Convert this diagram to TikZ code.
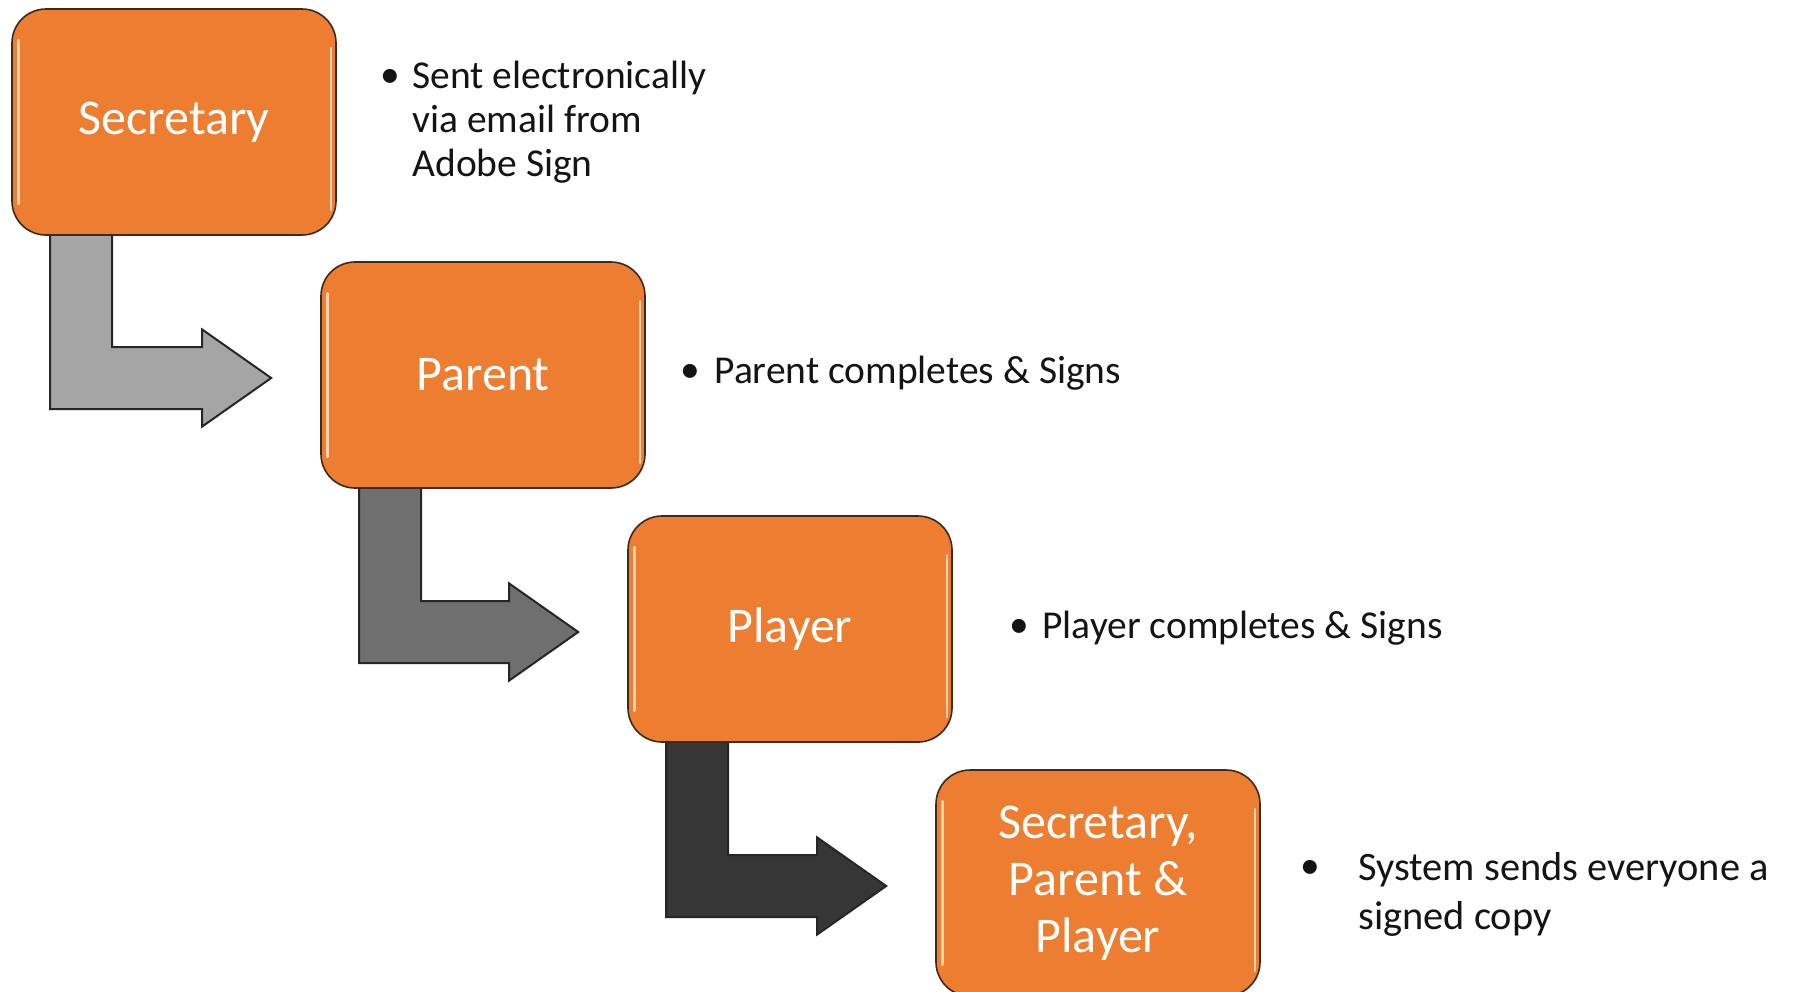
\documentclass[tikz,border=0pt]{standalone}
\usepackage{fontspec}
\setmainfont{Carlito}
\usetikzlibrary{calc}
\pgfdeclarelayer{bg}
\pgfsetlayers{bg,main}
\definecolor{boxorange}{HTML}{ED7D31}
\definecolor{boxedge}{HTML}{3B2A1E}
\definecolor{hilite}{HTML}{FCE3C4}
\definecolor{arrowA}{HTML}{A5A5A5}
\definecolor{arrowB}{HTML}{6F6F6F}
\definecolor{arrowC}{HTML}{363636}
\definecolor{txtdark}{HTML}{141414}
\newcommand{\bentarrow}[3]{%
  \begin{pgfonlayer}{bg}
  \path[bentarrowstyle, fill=#3] let \p1=(#1.south west), \p2=(#2.west) in
    (\x1+19.5pt, \y1+3pt) -- (\x1+50.5pt, \y1+3pt)
    -- (\x1+50.5pt, \y2+14pt) -- (\x2-59pt, \y2+14pt)
    -- (\x2-59pt, \y2+22.75pt) -- (\x2-24.5pt, \y2-1.5pt)
    -- (\x2-59pt, \y2-25.75pt) -- (\x2-59pt, \y2-17pt)
    -- (\x1+19.5pt, \y2-17pt) -- cycle;
  \end{pgfonlayer}}
\newcommand{\boxgloss}[1]{%
  \draw[glossline] ($(#1.north west)+(7,32)$) -- ($(#1.south west)+(7,-32)$);
  \draw[glossline] ($(#1.north east)+(-6,40)$) -- ($(#1.south east)+(-6,-26)$);}
\begin{document}
\begin{tikzpicture}[x=0.5pt,y=-0.5pt,
  stepbox/.style={rounded corners=17pt, fill=boxorange, draw=boxedge, line width=0.8pt,
    minimum width=162pt, minimum height=113pt, inner sep=0pt, align=center,
    text=white, font=\fontsize{25}{28.5}\selectfont},
  sidetext/.style={anchor=west, inner sep=0pt, align=left, text=txtdark,
    font=\fontsize{19.75}{22}\selectfont},
  bulletmark/.style={inner sep=0pt, text=txtdark, font=\fontsize{19.75}{22}\selectfont},
  bentarrowstyle/.style={draw=black!85, line width=1pt, line join=miter},
  glossline/.style={hilite, line width=1.3pt, line cap=round, opacity=0.85}
]
\useasboundingbox (0,0) rectangle (1797,991);
\begin{pgfonlayer}{bg}
\fill[white] (0,0) rectangle (1797,991);
\end{pgfonlayer}

% step boxes
\node[stepbox] (sec) at (174,122) {Secretary};
\node[stepbox] (par) at (483,375) {Parent};
\node[stepbox] (pla) at (790,629) {Player};
\node[stepbox] (all) at (1098,883) {Secretary,\\Parent \&\\Player};
\boxgloss{sec}
\boxgloss{par}
\boxgloss{pla}
\boxgloss{all}

% bent arrows
\bentarrow{sec}{par}{arrowA}
\bentarrow{par}{pla}{arrowB}
\bentarrow{pla}{all}{arrowC}

% side notes
\node[bulletmark] (b1) at (390,78) {•};
\node[sidetext] (t1) at (412,122) {Sent electronically\\via email from\\Adobe Sign};
\node[bulletmark] (b2) at (690,373) {•};
\node[sidetext] (t2) at (714,373) {Parent completes \& Signs};
\node[bulletmark] (b3) at (1019,628) {•};
\node[sidetext] (t3) at (1042,628) {Player completes \& Signs};
\node[bulletmark] (b4) at (1310,869) {•};
\node[sidetext, font=\fontsize{20.2}{24.5}\selectfont] (t4) at (1358,894) {System sends everyone a\\signed copy};
\end{tikzpicture}
\end{document}
